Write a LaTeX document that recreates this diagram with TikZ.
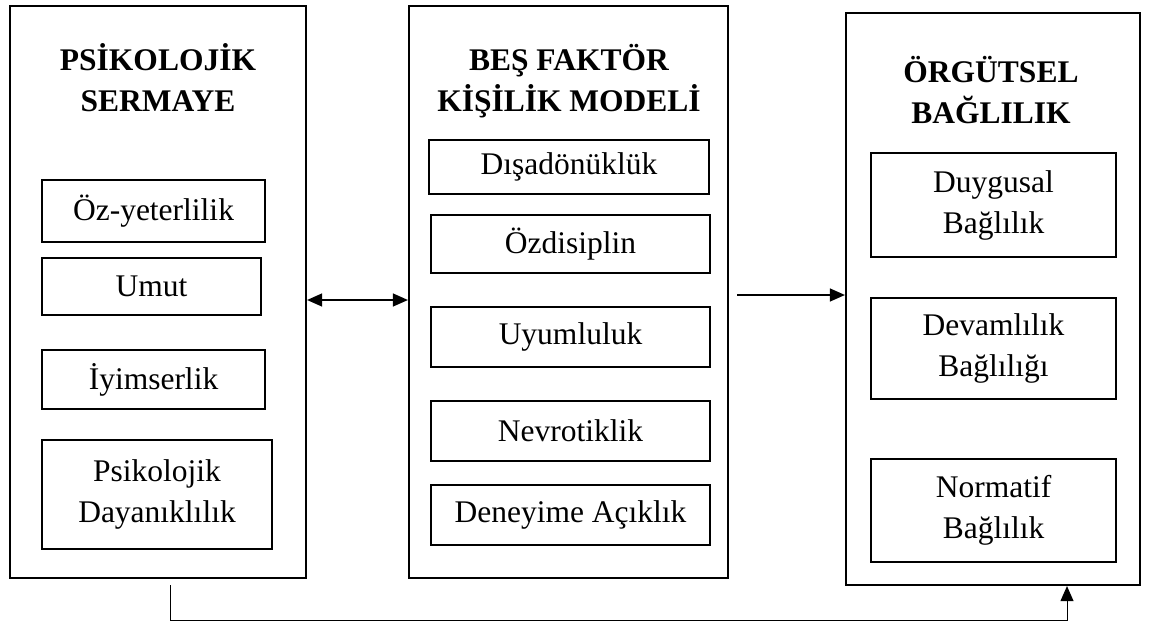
\documentclass[tikz,border=0pt]{standalone}
\usepackage{fontspec}
\setmainfont{Liberation Serif}
\usetikzlibrary{arrows.meta,positioning}

\tikzset{
  outerbox/.style={draw, line width=2.2pt, inner sep=0pt},
  itembox/.style={draw, line width=1.6pt, inner sep=0pt, align=center,
    font=\fontsize{31.5}{41}\selectfont},
  titletext/.style={align=center, font=\fontsize{31.5}{41}\selectfont\bfseries},
  arrowhd/.tip={Triangle[length=15pt,width=13pt]},
}

\begin{document}
\begin{tikzpicture}[x=1pt,y=-1pt]
			\useasboundingbox[fill=white] (0,0) rectangle (1152,621);
			
			% Define outer boxes
			\node[outerbox, minimum width=296pt, minimum height=572pt] (psy) at (158,292) {};
			\node[outerbox, minimum width=319pt, minimum height=572pt] (bfm) at (568.5,292) {};
			\node[outerbox, minimum width=294pt, minimum height=572pt] (org) at (993,299) {};
			
			% Titles
			\node[titletext] (psyt) at (158,78) {PSİKOLOJİK\\SERMAYE};
			\node[titletext] (bfmt) at (569,81) {BEŞ FAKTÖR\\KİŞİLİK MODELİ};
			\node[titletext] (orgt) at (991,90) {ÖRGÜTSEL\\BAĞLILIK};
			
			% Psikolojik sermaye items
			\node[itembox, minimum width=223pt, minimum height=62pt] (oz) at (153.5,211) {Öz-yeterlilik};
			\node[itembox, minimum width=219pt, minimum height=57pt] (umut) at (151.5,286.5) {Umut};
			\node[itembox, minimum width=223pt, minimum height=59pt] (iyim) at (153.5,379.5) {İyimserlik};
			\node[itembox, minimum width=230pt, minimum height=109pt] (dayan) at (157,494.5) {Psikolojik\\Dayanıklılık};
			
			% Kisilik items
			\node[itembox, minimum width=280pt, minimum height=54pt] (disa) at (569,167) {Dışadönüklük};
			\node[itembox, minimum width=279pt, minimum height=58pt] (ozd) at (570.5,244) {Özdisiplin};
			\node[itembox, minimum width=279pt, minimum height=60pt] (uyum) at (570.5,337) {Uyumluluk};
			\node[itembox, minimum width=279pt, minimum height=60pt] (nevro) at (570.5,431) {Nevrotiklik};
			\node[itembox, minimum width=279pt, minimum height=60pt] (deney) at (570.5,515) {Deneyime Açıklık};
			
			% Baglilik items
			\node[itembox, minimum width=245pt, minimum height=104pt] (duyg) at (993.5,205) {Duygusal\\Bağlılık};
			\node[itembox, minimum width=245pt, minimum height=101pt] (devam) at (993.5,348.5) {Devamlılık\\Bağlılığı};
			\node[itembox, minimum width=245pt, minimum height=103pt] (norm) at (993.5,510.5) {Normatif\\Bağlılık};
			
			% Arrows
			\coordinate (bi) at (0,300);
			\coordinate (ra) at (737,295);
			\coordinate (fb0) at (170,585);
			\coordinate (fb1) at (1067,620);
			\draw[line width=1.3pt, arrowhd-arrowhd] (psy.east |- bi) -- (bfm.west |- bi);
			\draw[line width=1.3pt, -arrowhd] (ra) -- (org.west |- ra);
			\draw[line width=1pt, -arrowhd] (fb0) |- (fb1) -- (fb1 |- org.south);
		\end{tikzpicture}
\end{document}
